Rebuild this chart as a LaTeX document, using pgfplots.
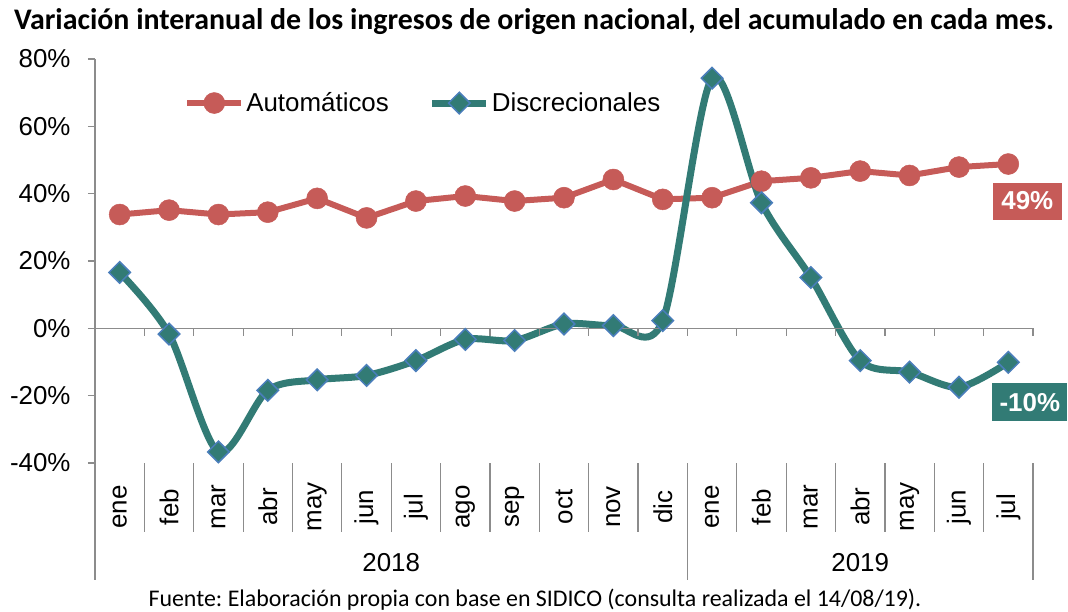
\documentclass[border=0pt]{standalone}
\usepackage{pgfplots}
\pgfplotsset{compat=1.18}
\usepackage{fontspec}
\setmainfont{Liberation Sans}
\newfontfamily\carlito{Carlito}
\definecolor{autred}{HTML}{C65B58}
\definecolor{discteal}{HTML}{327B75}
\definecolor{mkblue}{HTML}{4A7EBB}
\definecolor{axgray}{HTML}{8C8C8C}

\pgfplotstableread{
x auto disc
0 33.8 16.6
1 35.1 -1.7
2 33.8 -36.7
3 34.5 -18.4
4 38.6 -15.3
5 32.8 -14.0
6 37.8 -9.6
7 39.3 -3.3
8 37.8 -3.6
9 38.8 1.3
10 44.2 0.8
11 38.3 2.3
12 38.8 74.3
13 43.7 37.3
14 44.7 15.1
15 46.7 -9.6
16 45.4 -13.0
17 47.9 -17.5
18 48.8 -10.1
}\datatable

\begin{document}
\frenchspacing
\begin{tikzpicture}
\path[use as bounding box] (0,0) rectangle (1068bp,612bp);
\begin{axis}[
  at={(95bp,149bp)}, anchor=south west, scale only axis,
  width=938bp, height=404bp,
  xmin=-0.5, xmax=18.5, ymin=-40, ymax=80,
  clip=false,
  axis x line*=bottom, axis y line*=left,
  x axis line style={draw=none},
  y axis line style={axgray, line width=1.2bp},
  xtick={0,...,18},
  xticklabels={ene,feb,mar,abr,may,jun,jul,ago,sep,oct,nov,dic,ene,feb,mar,abr,may,jun,jul},
  xtick style={draw=none},
  xticklabel style={yshift=-37bp, rotate=90, anchor=center, font=\fontsize{26}{30}\selectfont},
  ytick={-40,-20,0,20,40,60,80},
  yticklabels={-40\%,-20\%,0\%,20\%,40\%,60\%,80\%},
  ytick style={axgray, line width=1.2bp},
  yticklabel style={font=\fontsize{26}{30}\selectfont, xshift=-14bp},
  tick align=outside,
  major tick length=7bp,
  legend columns=2,
  legend style={at={(0.095,0.891)}, anchor=west, draw=none, fill=none,
    font=\fontsize{26}{30}\selectfont,
    /tikz/every even column/.append style={column sep=38bp},
    inner sep=0pt},
  legend image code/.code={\draw[mark repeat=2,mark phase=2] plot coordinates {(0bp,0bp) (27bp,0bp) (54bp,0bp)};},
]
\addplot[autred, line width=6bp, mark=*, mark size=10.5bp, mark options={fill=autred, draw=autred, line width=0.5bp}]
  table[x=x, y=auto] {\datatable};
\addlegendentry{Automáticos}
\addplot[discteal, line width=7bp, smooth, tension=0.5, mark=square*, mark size=7.6bp,
  mark options={rotate=45, fill=discteal, draw=mkblue, line width=1.5bp}]
  table[x=x, y=disc] {\datatable};
\addlegendentry{Discrecionales}

% zero line with ticks
\draw[axgray, line width=1.2bp] (axis cs:-0.5,0) -- (axis cs:18.5,0);
\pgfplotsinvokeforeach{0,...,19}{\draw[axgray, line width=1.2bp] (axis cs:{#1-0.5},0) -- ([yshift=-8bp]axis cs:{#1-0.5},0);}
% month separators
\pgfplotsinvokeforeach{1,2,3,4,5,6,7,8,9,10,11,13,14,15,16,17,18}{\draw[axgray, line width=1.2bp] (axis cs:{#1-0.5},-40) -- ([yshift=-69bp]axis cs:{#1-0.5},-40);}
% year separators
\pgfplotsinvokeforeach{0,12,19}{\draw[axgray, line width=1.2bp] (axis cs:{#1-0.5},-40) -- ([yshift=-117bp]axis cs:{#1-0.5},-40);}
\node[font=\fontsize{26}{30}\selectfont] at (axis cs:5.5,-40) [yshift=-100bp] {2018};
\node[font=\fontsize{26}{30}\selectfont] at (axis cs:15,-40) [yshift=-100bp] {2019};

\node[fill=autred, text=white, font=\bfseries\fontsize{26}{30}\selectfont, minimum width=69bp, minimum height=37bp, inner sep=0pt] at (axis cs:18,48.8) [xshift=19bp, yshift=-37bp] {49\%};
\node[fill=discteal, text=white, font=\bfseries\fontsize{26}{30}\selectfont, minimum width=75bp, minimum height=38bp, inner sep=0pt] at (axis cs:18,-10.1) [xshift=21.5bp, yshift=-40bp] {-10\%};
\end{axis}
\node[font=\carlito\bfseries\fontsize{30}{34}\selectfont] at (534bp,590bp) {Variación interanual de los ingresos de origen nacional, del acumulado en cada mes.};
\node[font=\carlito\fontsize{24}{28}\selectfont] at (535bp,12bp) {Fuente: Elaboración propia con base en SIDICO (consulta realizada el 14/08/19).};
\end{tikzpicture}
\end{document}
